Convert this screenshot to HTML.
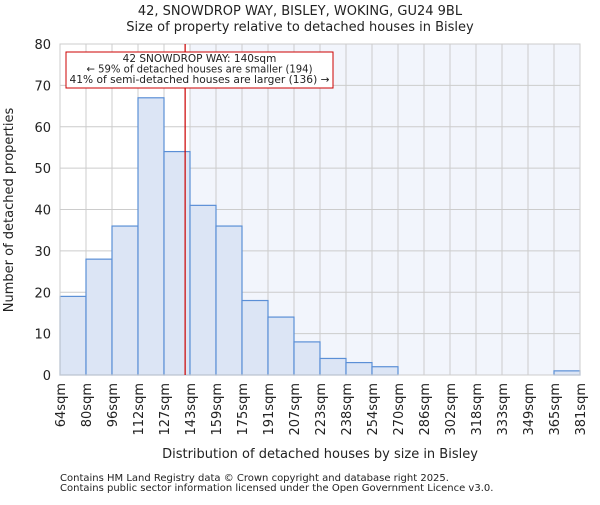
<!DOCTYPE html>
<html><head><meta charset="utf-8"><style>
body{margin:0;background:#fff;}
svg text{font-family:"DejaVu Sans","Liberation Sans",sans-serif;fill:#222;}
</style></head><body>
<svg width="600" height="500" xmlns="http://www.w3.org/2000/svg">
<g id="g"></g>
</svg>
<script>
const categories=["64sqm","80sqm","96sqm","112sqm","127sqm","143sqm","159sqm","175sqm","191sqm","207sqm","223sqm","238sqm","254sqm","270sqm","286sqm","302sqm","318sqm","333sqm","349sqm","365sqm","381sqm"];
const edgeValues=[64,80,96,112,127,143,159,175,191,207,223,238,254,270,286,302,318,333,349,365,381];
const counts=[19,28,36,67,54,41,36,18,14,8,4,3,2,0,0,0,0,0,0,1];
const yTicks=[0,10,20,30,40,50,60,70,80];
const propertySize=140;
const annotationLines=["42 SNOWDROP WAY: 140sqm","← 59% of detached houses are smaller (194)","41% of semi-detached houses are larger (136) →"];

const NS="http://www.w3.org/2000/svg";
const g=document.getElementById('g');
const L=60,R=580,T=44,B=375,yMax=80;
const bw=(R-L)/counts.length;
const x=i=>L+i*bw;
const y=v=>B-(v/yMax)*(B-T);
function xv(v){for(let i=0;i<edgeValues.length-1;i++){if(v<=edgeValues[i+1])return x(i)+bw*(v-edgeValues[i])/(edgeValues[i+1]-edgeValues[i]);}return R;}
function mk(t,a,txt){const e=document.createElementNS(NS,t);for(const k in a)e.setAttribute(k,a[k]);if(txt!==undefined)e.textContent=txt;g.appendChild(e);return e;}
let pi=edgeValues.findIndex(v=>v>propertySize);
let e=mk('rect',{x:x(pi),y:T,width:R-x(pi),height:B-T,fill:'#f2f5fc'});


for(const t of yTicks){e=mk('line',{x1:L,x2:R,y1:y(t),y2:y(t),stroke:'#ccc','stroke-width':1});


e=mk('text',{x:L-9,y:y(t)+5,'text-anchor':'end','font-size':13},t);

}
for(let i=0;i<categories.length;i++){e=mk('line',{x1:x(i),x2:x(i),y1:T,y2:B,stroke:'#ccc','stroke-width':1});


e=mk('text',{transform:`translate(${x(i)+5},${B+8}) rotate(-90)`,'text-anchor':'end','font-size':13},categories[i]);

}
counts.forEach((c,i)=>{if(c<=0)return;e=mk('rect',{x:x(i),y:y(c),width:bw,height:B-y(c),fill:'#dce5f5',stroke:'#5b8fd6','stroke-width':1.2});

});
e=mk('rect',{x:L,y:T,width:R-L,height:B-T,fill:'none',stroke:'#ccc'});


const px=xv(propertySize);
e=mk('line',{x1:px,x2:px,y1:T,y2:B,stroke:'#c00','stroke-width':1.2});


e=mk('rect',{x:66,y:52,width:267,height:36,fill:'#fff',stroke:'#c00','stroke-width':1});


annotationLines.forEach((s,i)=>{e=mk('text',{x:199.5,y:62+i*10.5,'text-anchor':'middle','font-size':10.5,textLength:i==0?0:undefined},s);
if(i>0){e.setAttribute('textLength',i==1?226:260);e.setAttribute('lengthAdjust','spacingAndGlyphs');}else{e.removeAttribute('textLength');}

});
[["42, SNOWDROP WAY, BISLEY, WOKING, GU24 9BL",15,'chart-title'],["Size of property relative to detached houses in Bisley",31,'chart-subtitle']].forEach(a=>{e=mk('text',{x:300,y:a[1],'text-anchor':'middle','font-size':13},a[0]);

});
e=mk('text',{x:320,y:458,'text-anchor':'middle','font-size':13},"Distribution of detached houses by size in Bisley");


e=mk('text',{transform:'translate(13,210) rotate(-90)','text-anchor':'middle','font-size':13},"Number of detached properties");


["Contains HM Land Registry data © Crown copyright and database right 2025.","Contains public sector information licensed under the Open Government Licence v3.0."].forEach((s,i)=>{e=mk('text',{x:60,y:481+i*10,'font-size':10,fill:'#444'},s);

});
</script>
</body></html>
